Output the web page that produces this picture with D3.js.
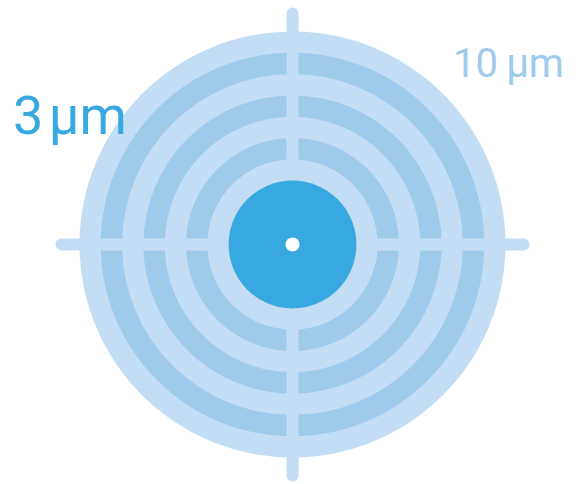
<!DOCTYPE html>
<html><head><meta charset="utf-8">
<script src="https://cdn.jsdelivr.net/npm/d3@7"></script>
<style>html,body{margin:0;padding:0;background:#fff;}svg{display:block;}</style>
</head><body>
<script>
// values in micrometres
const outerRadius = 10;
const coreRadius = 3;
const darkBands = [[4,5],[6,7],[8,9]];
const crossExtent = 10.85;
const dotRadius = 0.33;
const labels = [
  {text: "3\u200a\u00b5m", value: 3},
  {text: "10\u2009\u00b5m", value: 10}
];

const W = 578, H = 484, cx = 292.5, cy = 244.5;
const r = d3.scaleLinear().domain([0, 10]).range([0, 213]);

const svg = d3.select("body").append("svg").attr("width", W).attr("height", H);
const g = svg.append("g").attr("transform", `translate(${cx},${cy})`);

const light = "#c2ddf4", dark = "#9ecaec", core = "#38a9e0";

g.append("circle").attr("r", r(outerRadius)).attr("fill", light);
const arc = d3.arc();
g.selectAll("path.band").data(darkBands).join("path").attr("class","band")
  .attr("d", d => arc({innerRadius: r(d[0]), outerRadius: r(d[1]), startAngle: 0, endAngle: 2*Math.PI}))
  .attr("fill", dark);

// cross
const L = r(crossExtent);
g.append("line").attr("x1", -L).attr("x2", L).attr("y1", 0).attr("y2", 0)
  .attr("stroke", light).attr("stroke-width", 12).attr("stroke-linecap", "round");
g.append("line").attr("y1", -L).attr("y2", L).attr("x1", 0).attr("x2", 0)
  .attr("stroke", light).attr("stroke-width", 12).attr("stroke-linecap", "round");

g.append("circle").attr("r", r(coreRadius)).attr("fill", core);
g.append("circle").attr("r", r(dotRadius)).attr("fill", "#fff");

svg.append("text").text(labels[0].text)
  .attr("x", 13).attr("y", 134)
  .attr("font-family", "Roboto").attr("font-size", 54).attr("fill", core);
svg.append("text").text(labels[1].text)
  .attr("x", 453).attr("y", 77)
  .attr("font-family", "Roboto").attr("font-size", 40).attr("fill", dark);
</script>
</body></html>
